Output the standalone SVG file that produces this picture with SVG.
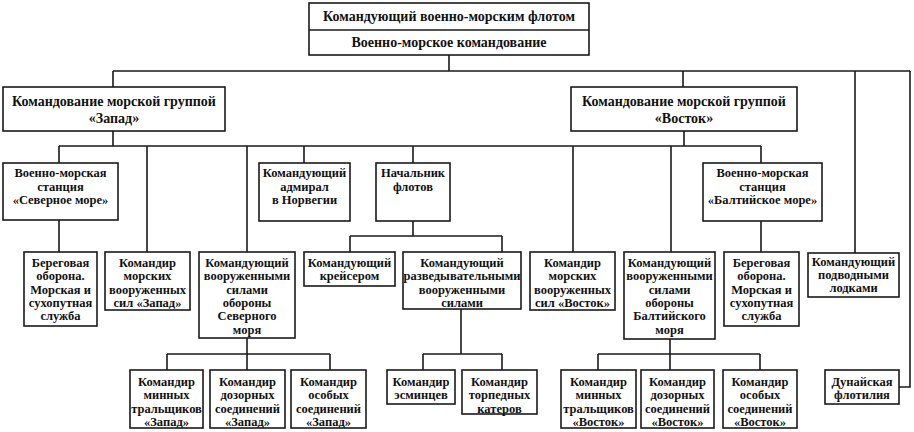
<svg xmlns="http://www.w3.org/2000/svg" width="914" height="432" viewBox="0 0 914 432">
<style>
.b{fill:#fff;stroke:#1a1a1a;stroke-width:1.6}
.c{fill:none;stroke:#1a1a1a;stroke-width:1.6}
text{font-family:"Liberation Serif","Times New Roman",serif;font-weight:bold;font-size:12.5px;fill:#111;text-anchor:middle}
.l{font-size:14px}
</style>
<rect width="914" height="432" fill="#fff"/>
<g id="connectors">
<path class="c" d="M449 55V71M113 71H910M113 71V87M683 71V87M855 71V253M910 71V387H899"/>
<path class="c" d="M113 131V146M59 146H761M59 146V163M147 146V252M247 146V252M304 146V163M413 146V163M684 131V146M573 146V252M671 146V252M761 146V163"/>
<path class="c" d="M59 220V252M761 221V252M413 221V236M350 236H502M350 236V252M502 236V252"/>
<path class="c" d="M247 338V354M167 354H330M167 354V370M247 354V370M330 354V370"/>
<path class="c" d="M461 309V354M423 354H502M423 354V370M502 354V370"/>
<path class="c" d="M670 339V354M598 354H760M598 354V370M670 354V370M760 354V370"/>
</g>
<g id="top"><rect class="b" x="309" y="3" width="280" height="52"/><path class="c" d="M309 30H589"/>
<text class="l" x="449" y="21">Командующий военно-морским флотом</text><text class="l" x="449" y="47">Военно-морское командование</text></g>
<g id="zapad"><rect class="b" x="3" y="87" width="222" height="44"/><text class="l" x="114"><tspan x="114" y="106">Командование морской группой</tspan><tspan x="114" y="123">«Запад»</tspan></text></g>
<g id="vostok"><rect class="b" x="571" y="87" width="226" height="44"/><text class="l" x="684"><tspan x="684" y="106">Командование морской группой</tspan><tspan x="684" y="123">«Восток»</tspan></text></g>
<g id="station-north"><rect class="b" x="3" y="163" width="115" height="57"/><text><tspan x="60.5" y="177">Военно-морская</tspan><tspan x="60.5" y="190.5">станция</tspan><tspan x="60.5" y="204">«Северное море»</tspan></text></g>
<g id="admiral-norway"><rect class="b" x="259" y="163" width="91" height="58"/><text><tspan x="304.5" y="177">Командующий</tspan><tspan x="304.5" y="190.5">адмирал</tspan><tspan x="304.5" y="204">в Норвегии</tspan></text></g>
<g id="chief-fleets"><rect class="b" x="376" y="163" width="74" height="58"/><text><tspan x="413" y="177">Начальник</tspan><tspan x="413" y="190.5">флотов</tspan></text></g>
<g id="station-baltic"><rect class="b" x="703" y="163" width="119" height="58"/><text><tspan x="762.5" y="177">Военно-морская</tspan><tspan x="762.5" y="190.5">станция</tspan><tspan x="762.5" y="204">«Балтийское море»</tspan></text></g>
<g id="coast-west"><rect class="b" x="24" y="252" width="73" height="74"/><text><tspan x="60.5" y="267">Береговая</tspan><tspan x="60.5" y="280.3">оборона.</tspan><tspan x="60.5" y="293.6">Морская и</tspan><tspan x="60.5" y="306.9">сухопутная</tspan><tspan x="60.5" y="320.2">служба</tspan></text></g>
<g id="naval-west"><rect class="b" x="105" y="252" width="85" height="58"/><text><tspan x="147.5" y="267">Командир</tspan><tspan x="147.5" y="280.3">морских</tspan><tspan x="147.5" y="293.6">вооруженных</tspan><tspan x="147.5" y="306.9">сил «Запад»</tspan></text></g>
<g id="north-sea"><rect class="b" x="199" y="252" width="96" height="86"/><text><tspan x="247" y="267">Командующий</tspan><tspan x="247" y="280.3">вооруженными</tspan><tspan x="247" y="293.6">силами</tspan><tspan x="247" y="306.9">обороны</tspan><tspan x="247" y="320.2">Северного</tspan><tspan x="247" y="333.5">моря</tspan></text></g>
<g id="cruiser"><rect class="b" x="304" y="252" width="91" height="34"/><text><tspan x="349.5" y="267">Командующий</tspan><tspan x="349.5" y="280.3">крейсером</tspan></text></g>
<g id="recon"><rect class="b" x="403" y="252" width="118" height="57"/><text><tspan x="462" y="267">Командующий</tspan><tspan x="462" y="280.3">разведывательными</tspan><tspan x="462" y="293.6">вооруженными</tspan><tspan x="462" y="306.9">силами</tspan></text></g>
<g id="naval-east"><rect class="b" x="530" y="252" width="85" height="58"/><text><tspan x="572.5" y="267">Командир</tspan><tspan x="572.5" y="280.3">морских</tspan><tspan x="572.5" y="293.6">вооруженных</tspan><tspan x="572.5" y="306.9">сил «Восток»</tspan></text></g>
<g id="baltic"><rect class="b" x="624" y="252" width="91" height="87"/><text><tspan x="669.5" y="267">Командующий</tspan><tspan x="669.5" y="280.3">вооруженными</tspan><tspan x="669.5" y="293.6">силами</tspan><tspan x="669.5" y="306.9">обороны</tspan><tspan x="669.5" y="320.2">Балтийского</tspan><tspan x="669.5" y="333.5">моря</tspan></text></g>
<g id="coast-east"><rect class="b" x="724" y="252" width="75" height="74"/><text><tspan x="761.5" y="267">Береговая</tspan><tspan x="761.5" y="280.3">оборона.</tspan><tspan x="761.5" y="293.6">Морская и</tspan><tspan x="761.5" y="306.9">сухопутная</tspan><tspan x="761.5" y="320.2">служба</tspan></text></g>
<g id="submarines"><rect class="b" x="808" y="253" width="91" height="44"/><text><tspan x="853.5" y="266">Командующий</tspan><tspan x="853.5" y="279">подводными</tspan><tspan x="853.5" y="292">лодками</tspan></text></g>
<g id="mines-west"><rect class="b" x="130" y="370" width="73" height="58"/><text><tspan x="166.5" y="386">Командир</tspan><tspan x="166.5" y="399.3">минных</tspan><tspan x="166.5" y="412.6">тральщиков</tspan><tspan x="166.5" y="425.9">«Запад»</tspan></text></g>
<g id="patrol-west"><rect class="b" x="210" y="370" width="75" height="58"/><text><tspan x="247.5" y="386">Командир</tspan><tspan x="247.5" y="399.3">дозорных</tspan><tspan x="247.5" y="412.6">соединений</tspan><tspan x="247.5" y="425.9">«Запад»</tspan></text></g>
<g id="special-west"><rect class="b" x="291" y="370" width="75" height="58"/><text><tspan x="328.5" y="386">Командир</tspan><tspan x="328.5" y="399.3">особых</tspan><tspan x="328.5" y="412.6">соединений</tspan><tspan x="328.5" y="425.9">«Запад»</tspan></text></g>
<g id="destroyers"><rect class="b" x="387" y="370" width="68" height="34"/><text><tspan x="421" y="386">Командир</tspan><tspan x="421" y="399.3">эсминцев</tspan></text></g>
<g id="torpedo"><rect class="b" x="462" y="370" width="75" height="44"/><text><tspan x="499.5" y="386">Командир</tspan><tspan x="499.5" y="399.3">торпедных</tspan><tspan x="499.5" y="412.6">катеров</tspan></text></g>
<g id="mines-east"><rect class="b" x="561" y="370" width="75" height="58"/><text><tspan x="598.5" y="386">Командир</tspan><tspan x="598.5" y="399.3">минных</tspan><tspan x="598.5" y="412.6">тральщиков</tspan><tspan x="598.5" y="425.9">«Восток»</tspan></text></g>
<g id="patrol-east"><rect class="b" x="641" y="370" width="73" height="58"/><text><tspan x="677.5" y="386">Командир</tspan><tspan x="677.5" y="399.3">дозорных</tspan><tspan x="677.5" y="412.6">соединений</tspan><tspan x="677.5" y="425.9">«Восток»</tspan></text></g>
<g id="special-east"><rect class="b" x="723" y="370" width="74" height="58"/><text><tspan x="760" y="386">Командир</tspan><tspan x="760" y="399.3">особых</tspan><tspan x="760" y="412.6">соединений</tspan><tspan x="760" y="425.9">«Восток»</tspan></text></g>
<g id="danube"><rect class="b" x="825" y="370" width="74" height="34"/><text><tspan x="862" y="386">Дунайская</tspan><tspan x="862" y="399">флотилия</tspan></text></g>
</svg>
